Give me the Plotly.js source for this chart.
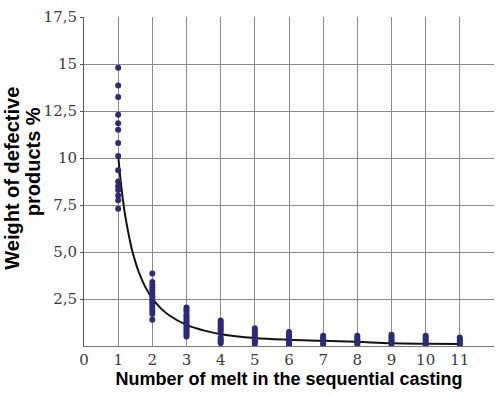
<!DOCTYPE html>
<html>
<head>
<meta charset="utf-8">
<script src="https://cdn.plot.ly/plotly-3.0.1.min.js"></script>
<style>html,body{margin:0;padding:0;background:#fff;}#chart{width:500px;height:397px;}</style>
</head>
<body>
<div id="chart"></div>
<script>
// Measured points: melt number and weight of defective products (%)
const melt1 = [14.8, 13.85, 13.25, 12.3, 11.85, 11.5, 10.8, 10.1, 9.35, 8.75, 8.5, 8.3, 8.0, 7.75, 7.3];
const melt2 = [3.85, 3.4, 3.25, 3.1, 2.95, 2.8, 2.65, 2.5, 2.4, 2.3, 2.15, 2.0, 1.85, 1.7, 1.4];
const melt3 = [2.05, 1.95, 1.85, 1.7, 1.6, 1.5, 1.4, 1.3, 1.2, 1.1, 1.0, 0.9, 0.8, 0.7, 0.6, 0.5];
const melt4 = [1.35, 1.25, 1.15, 1.05, 0.95, 0.85, 0.75, 0.45, 0.35, 0.25, 0.15];
const melt5 = [0.95, 0.8, 0.7, 0.6, 0.5, 0.4, 0.3, 0.2, 0.1];
const melt6 = [0.75, 0.6, 0.5, 0.4, 0.3, 0.2, 0.1, 0.05];
const melt7 = [0.55, 0.45, 0.35, 0.25, 0.15, 0.05];
const melt8 = [0.55, 0.45, 0.35, 0.25, 0.15, 0.05];
const melt9 = [0.6, 0.5, 0.4, 0.3, 0.2, 0.1];
const melt10 = [0.55, 0.45, 0.35, 0.25, 0.15, 0.05];
const melt11 = [0.45, 0.35, 0.25, 0.15, 0.05];
const meltGroups = [melt1, melt2, melt3, melt4, melt5, melt6, melt7, melt8, melt9, melt10, melt11];

// Trend curve
const trendX = [1, 1.1, 1.2, 1.3, 1.4, 1.5, 1.6, 1.8, 2, 2.25, 2.5, 3, 3.5, 4, 5, 6, 7, 8, 9, 10, 11];
const trendY = [10.1, 8.35, 7.0, 6.0, 5.15, 4.5, 3.95, 3.12, 2.53, 2.0, 1.62, 1.12, 0.83, 0.63, 0.42, 0.33, 0.28, 0.22, 0.15, 0.12, 0.1];

// Tick labels and titles
const xTicks = [0, 1, 2, 3, 4, 5, 6, 7, 8, 9, 10, 11, 12];
const yTickVals = [2.5, 5, 7.5, 10, 12.5, 15, 17.5];
const yTickText = ["2,5", "5,0", "7,5", "10", "12,5", "15", "17,5"];
const xTitle = 'Number of melt in the sequential casting';
const yTitleLines = ['Weight of defective', 'products %'];

const px = [], py = [];
meltGroups.forEach((g, i) => g.forEach(v => { px.push(i + 1); py.push(v); }));

const traces = [
  {x: trendX, y: trendY, type: 'scatter', mode: 'lines', line: {color: '#111', width: 2, shape: 'spline'}, hoverinfo: 'skip'},
  {x: px, y: py, type: 'scatter', mode: 'markers', marker: {symbol: 'circle', size: 6, color: '#2d2a7c'}}
];

const serifStack = '"DejaVu Serif", "Liberation Serif", "Times New Roman", serif';
const titleFont = {family: 'Liberation Sans', size: 20, color: '#000', weight: 'bold'};

const layout = {
  width: 500, height: 397,
  margin: {l: 84, r: 6, t: 17, b: 51},
  font: {family: serifStack, size: 15, color: '#3a3a3a'},
  paper_bgcolor: '#fff', plot_bgcolor: '#fff',
  showlegend: false,
  xaxis: {
    range: [0, 12], tickmode: 'array', tickvals: xTicks, ticktext: xTicks.map(String),
    showgrid: true, gridcolor: '#8a8a8a', gridwidth: 1,
    showline: true, linecolor: '#777', linewidth: 1,
    zeroline: false, ticks: '',
    tickfont: {family: serifStack, size: 15, color: '#3a3a3a'},
    title: {text: xTitle, standoff: 2,
            font: {family: 'Liberation Sans', size: 18, color: '#000', weight: 'bold'}}
  },
  yaxis: {
    range: [0, 17.5], tickmode: 'array', tickvals: yTickVals, ticktext: yTickText,
    showgrid: true, gridcolor: '#8a8a8a', gridwidth: 1,
    showline: true, linecolor: '#555', linewidth: 1,
    zeroline: false, ticks: 'outside', ticklen: 3, tickcolor: '#555',
    tickfont: {family: serifStack, size: 15, color: '#3a3a3a'}
  },
  annotations: [
    {text: yTitleLines[0], xref: 'paper', yref: 'paper', x: -0.176, y: 0.511, xanchor: 'center', yanchor: 'middle',
     textangle: -90, showarrow: false, font: titleFont},
    {text: yTitleLines[1], xref: 'paper', yref: 'paper', x: -0.124, y: 0.559, xanchor: 'center', yanchor: 'middle',
     textangle: -90, showarrow: false, font: titleFont}
  ]
};

Plotly.newPlot('chart', traces, layout, {displayModeBar: false, staticPlot: true}).then(gd => {
  gd.querySelectorAll('.xtick text, .ytick text').forEach(t => {
    t.style.fontFamily = serifStack;
    t.style.fontSize = '15px';
    t.style.fill = '#3a3a3a';
  });
});
</script>
</body>
</html>
